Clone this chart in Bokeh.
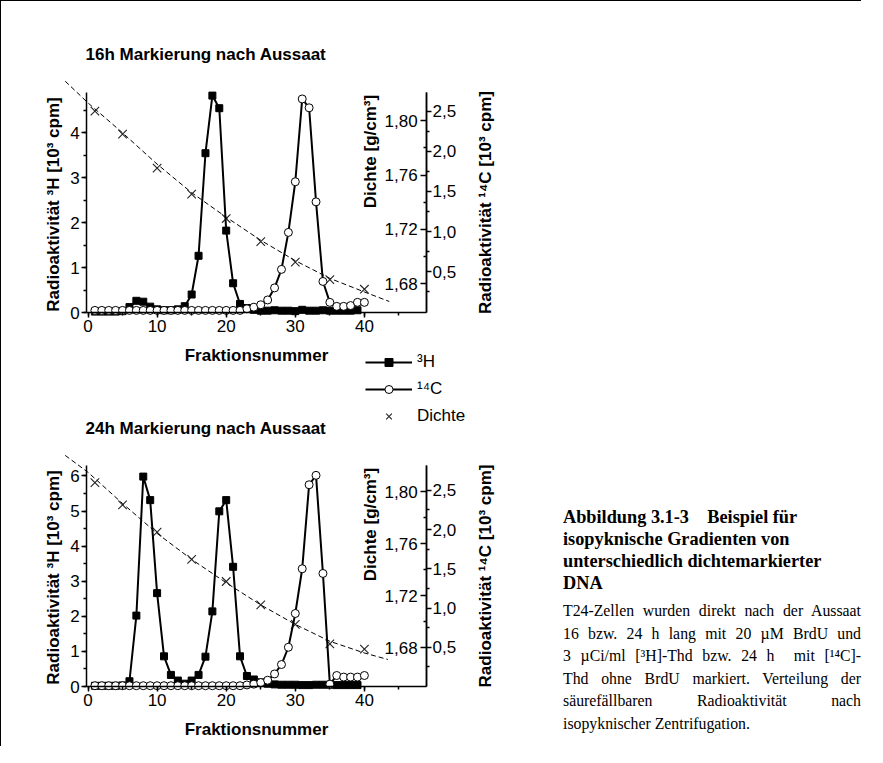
import math
from bokeh.plotting import figure
from bokeh.models import (Range1d, LinearAxis, SingleIntervalTicker, FixedTicker,
                          CustomJSTickFormatter, Label, Legend, LegendItem, Div)
from bokeh.layouts import row
from bokeh.embed import file_html
from bokeh.resources import INLINE

FONT = "Liberation Sans"

# ---------------- data: 16h Markierung ----------------
frac_h3_16 = list(range(1, 40))
h3_16 = [0.02, 0.02, 0.02, 0.02, 0.03, 0.12, 0.26, 0.24, 0.13, 0.07,
         0.05, 0.05, 0.07, 0.14, 0.40, 1.26, 3.54, 4.82, 4.54, 1.82,
         0.65, 0.19, 0.10, 0.06, 0.04, 0.04, 0.05, 0.04, 0.04, 0.03,
         0.06, 0.04, 0.04, 0.05, 0.04, 0.04, 0.04, 0.04, 0.05]
frac_c14_16 = list(range(1, 41))
c14_16 = [0.02, 0.02, 0.02, 0.02, 0.02, 0.02, 0.02, 0.02, 0.02, 0.02,
          0.02, 0.02, 0.02, 0.02, 0.02, 0.02, 0.02, 0.02, 0.02, 0.02,
          0.02, 0.02, 0.04, 0.06, 0.09, 0.15, 0.30, 0.53, 0.99, 1.62,
          2.65, 2.54, 1.37, 0.38, 0.12, 0.07, 0.07, 0.08, 0.12, 0.12]
frac_d_16 = [1, 5, 10, 15, 20, 25, 30, 35, 40]
dichte_16 = [1.807, 1.790, 1.765, 1.746, 1.728, 1.711, 1.696, 1.683, 1.676]
fit_x_16 = [-3.3, 0, 5, 10, 15, 20, 25, 30, 35, 40, 43.6]
fit_d_16 = [1.829, 1.813, 1.791, 1.768, 1.747, 1.729, 1.712, 1.697, 1.684, 1.674, 1.667]

# ---------------- data: 24h Markierung ----------------
frac_h3_24 = list(range(1, 40))
h3_24 = [0.02, 0.02, 0.02, 0.02, 0.03, 0.15, 2.02, 5.98, 5.31, 2.66,
         0.86, 0.33, 0.17, 0.08, 0.17, 0.33, 0.85, 2.14, 4.99, 5.31,
         3.41, 0.86, 0.30, 0.20, 0.12, 0.08, 0.06, 0.05, 0.05, 0.05,
         0.04, 0.04, 0.05, 0.05, 0.05, 0.04, 0.04, 0.04, 0.04]
frac_c14_24 = list(range(1, 41))
c14_24 = [0.01, 0.01, 0.01, 0.01, 0.01, 0.01, 0.01, 0.01, 0.01, 0.01,
          0.01, 0.01, 0.01, 0.01, 0.01, 0.01, 0.01, 0.01, 0.01, 0.01,
          0.01, 0.01, 0.02, 0.03, 0.05, 0.08, 0.16, 0.28, 0.50, 0.93,
          1.50, 2.57, 2.69, 1.44, 0.03, 0.14, 0.12, 0.12, 0.12, 0.14]
frac_d_24 = [1, 5, 10, 15, 20, 25, 30, 35, 40]
dichte_24 = [1.807, 1.790, 1.769, 1.748, 1.731, 1.713, 1.698, 1.683, 1.679]
fit_x_24 = [-3.3, 0, 5, 10, 15, 20, 25, 30, 35, 40, 43.4]
fit_d_24 = [1.828, 1.815, 1.791, 1.768, 1.748, 1.730, 1.713, 1.698, 1.685, 1.676, 1.671]

# ---------------- texts & ticks ----------------
title_16 = "16h Markierung nach Aussaat"
title_24 = "24h Markierung nach Aussaat"
xlabel = "Fraktionsnummer"
ylabel_h3 = "Radioaktivität ³H [10³ cpm]"
ylabel_c14 = "Radioaktivität ¹⁴C [10³ cpm]"
ylabel_d = "Dichte [g/cm³]"
legend_labels = ["³H", "¹⁴C", "Dichte"]
dichte_ticks = [1.68, 1.72, 1.76, 1.80]
dichte_minor = [1.70, 1.74, 1.78]
c14_ticks = [0.5, 1.0, 1.5, 2.0, 2.5]
c14_minor = [0.25, 0.75, 1.25, 1.75, 2.25]

# ---------------- geometry (screen pixels) ----------------
FIG_W, FIG_H = 510, 745
X0, Y0 = 1, 1                 # figure top-left on screen
XZERO_PX, X_PPU = 87.5, 6.91  # fraction 0 position and px per fraction


def yr(v, px, ppu):
    bottom = Y0 + FIG_H
    return Range1d(v - (bottom - px) / ppu, v + (px - Y0) / ppu)


p = figure(width=FIG_W, height=FIG_H,
           x_range=Range1d((X0 - XZERO_PX) / X_PPU, (X0 + FIG_W - XZERO_PX) / X_PPU),
           y_range=yr(0, 312, 45.0),
           x_axis_location=None, y_axis_location=None,
           output_backend="svg", toolbar_location=None, min_border=0)
p.outline_line_color = None
p.xgrid.grid_line_color = None
p.ygrid.grid_line_color = None
p.background_fill_color = "white"
p.border_fill_color = "white"
p.extra_y_ranges = {
    "t_c14": yr(0, 311.5, 80.4),
    "t_d": yr(1.68, 283.3, 1360.0),
    "b_left": yr(0, 686, 35.1),
    "b_c14": yr(0, 686, 78.5),
    "b_d": yr(1.68, 647.3, 1300.0),
}


def style_axis(ax, label_standoff):
    ax.axis_line_width = 1.5
    ax.axis_line_color = "black"
    ax.major_tick_line_width = 1.5
    ax.minor_tick_line_width = 1.5
    ax.major_tick_line_color = "black"
    ax.minor_tick_line_color = "black"
    ax.major_tick_in = 0
    ax.major_tick_out = 5
    ax.minor_tick_in = 0
    ax.minor_tick_out = 3
    ax.major_label_text_font = FONT
    ax.major_label_text_font_size = "17px"
    ax.major_label_text_color = "black"
    ax.major_label_standoff = label_standoff


def text_label(x, y, text, rname, angle=0.0, align="center"):
    p.add_layout(Label(x=x, y=y, y_range_name=rname, text=text, angle=angle,
                       text_align=align, text_baseline="middle",
                       text_font=FONT, text_font_size="17px", text_font_style="bold",
                       text_color="black"))


def add_panel(yl, yc, yd, left_bounds, c14_bounds, d_bounds,
              hx, hy, cx, cy, dx, dy, fx, fy):
    xa = LinearAxis(y_range_name=yl, fixed_location=0.0001, bounds=(-0.2, 49),
                    ticker=SingleIntervalTicker(interval=10, num_minor_ticks=2))
    style_axis(xa, 3)
    p.add_layout(xa, "below")

    ya = LinearAxis(y_range_name=yl, fixed_location=-0.2, bounds=left_bounds,
                    ticker=SingleIntervalTicker(interval=1, num_minor_ticks=2))
    style_axis(ya, 2)
    p.add_layout(ya, "left")

    ca = LinearAxis(y_range_name=yc, fixed_location=49, bounds=c14_bounds,
                    ticker=FixedTicker(ticks=c14_ticks, minor_ticks=c14_minor),
                    formatter=CustomJSTickFormatter(code="return tick.toFixed(1).replace('.', ',')"))
    style_axis(ca, 1)
    p.add_layout(ca, "right")

    da = LinearAxis(y_range_name=yd, fixed_location=49, bounds=d_bounds,
                    ticker=FixedTicker(ticks=dichte_ticks, minor_ticks=dichte_minor),
                    formatter=CustomJSTickFormatter(code="return tick.toFixed(2).replace('.', ',')"))
    style_axis(da, 3)
    da.major_tick_out = 6
    p.add_layout(da, "left")

    p.line(fx, fy, y_range_name=yd, line_color="black", line_width=1, line_dash="5 3")
    dpts = p.scatter(dx, dy, y_range_name=yd, marker="x", size=12,
                     line_color="#222222", line_width=1.1)
    hl = p.line(hx, hy, y_range_name=yl, line_color="black", line_width=2)
    hs = p.scatter(hx, hy, y_range_name=yl, marker="square", size=7,
                   fill_color="black", line_color="black")
    cl = p.line(cx, cy, y_range_name=yc, line_color="black", line_width=2)
    cs = p.scatter(cx, cy, y_range_name=yc, marker="circle", size=8,
                   fill_color="white", line_color="black", line_width=1)
    return hl, hs, cl, cs, dpts


def sx(px):
    return (px - XZERO_PX) / X_PPU


# ---- top panel (16h) ----
rs = add_panel("default", "t_c14", "t_d", (0, 4.889), (0, 2.730), (1.6589, 1.8207),
               frac_h3_16, h3_16, frac_c14_16, c14_16, frac_d_16, dichte_16,
               fit_x_16, fit_d_16)
text_label(sx(85), (312 - 54) / 45.0, title_16, "default", align="left")
text_label(sx(53), (312 - 204) / 45.0, ylabel_h3, "default", angle=math.pi / 2)
text_label(sx(256), (312 - 355) / 45.0, xlabel, "default")
text_label(sx(370), (312 - 151) / 45.0, ylabel_d, "default", angle=math.pi / 2)
text_label(sx(485), (311.5 - 202) / 80.4, ylabel_c14, "t_c14", angle=math.pi / 2)

# ---- bottom panel (24h) ----
add_panel("b_left", "b_c14", "b_d", (0, 6.296), (0, 2.815), (1.6502, 1.8202),
          frac_h3_24, h3_24, frac_c14_24, c14_24, frac_d_24, dichte_24,
          fit_x_24, fit_d_24)
text_label(sx(85), (686 - 428) / 35.1, title_24, "b_left", align="left")
text_label(sx(53), (686 - 577) / 35.1, ylabel_h3, "b_left", angle=math.pi / 2)
text_label(sx(256), (686 - 729) / 35.1, xlabel, "b_left")
text_label(sx(370), (686 - 524) / 35.1, ylabel_d, "b_left", angle=math.pi / 2)
text_label(sx(485), (686 - 575.5) / 78.5, ylabel_c14, "b_c14", angle=math.pi / 2)

# ---- legend ----
hl, hs, cl, cs, dpts = rs
legend = Legend(items=[LegendItem(label=legend_labels[0], renderers=[hl, hs]),
                       LegendItem(label=legend_labels[1], renderers=[cl, cs]),
                       LegendItem(label=legend_labels[2], renderers=[dpts])],
                location=(364, 320), orientation="vertical")
legend.label_text_font = FONT
legend.label_text_font_size = "17px"
legend.label_text_color = "black"
legend.border_line_color = None
legend.background_fill_alpha = 0
legend.padding = 0
legend.margin = 0
legend.spacing = 7
legend.glyph_width = 47
legend.glyph_height = 20
legend.label_height = 20
legend.label_standoff = 5
p.add_layout(legend)

# ---- caption ----
J = "<div style=\"text-align:justify;text-align-last:justify;white-space:nowrap;\">"
caption_html = (
    "<div style=\"font-family:'Liberation Serif',serif;color:black;width:298px;\">"
    "<div style=\"font-weight:bold;font-size:18.3px;line-height:22px;white-space:nowrap;\">"
    "Abbildung 3.1-3&nbsp;&nbsp;&nbsp; Beispiel für<br>isopyknische Gradienten von<br>"
    "unterschiedlich dichtemarkierter<br>DNA</div>"
    "<div style=\"font-size:15.8px;line-height:22.6px;margin-top:6px;\">"
    + J + "T24-Zellen wurden direkt nach der Aussaat</div>"
    + J + "16 bzw. 24&nbsp;h lang mit 20&nbsp;µM BrdU und</div>"
    + J + "3&nbsp;µCi/ml [³H]-Thd bzw. 24&nbsp;h &nbsp;mit [¹⁴C]-</div>"
    + J + "Thd ohne BrdU markiert. Verteilung der</div>"
    + J + "säurefällbaren Radioaktivität nach</div>"
    "<div style=\"white-space:nowrap;\">isopyknischer Zentrifugation.</div>"
    "</div></div>"
)
caption = Div(text=caption_html, width=298, height=230, margin=(505, 0, 0, 52))

layout = row(p, caption,
             styles={"border-top": "1px solid black", "border-left": "1px solid black"})

open("out.html", "w").write(file_html(layout, INLINE))
